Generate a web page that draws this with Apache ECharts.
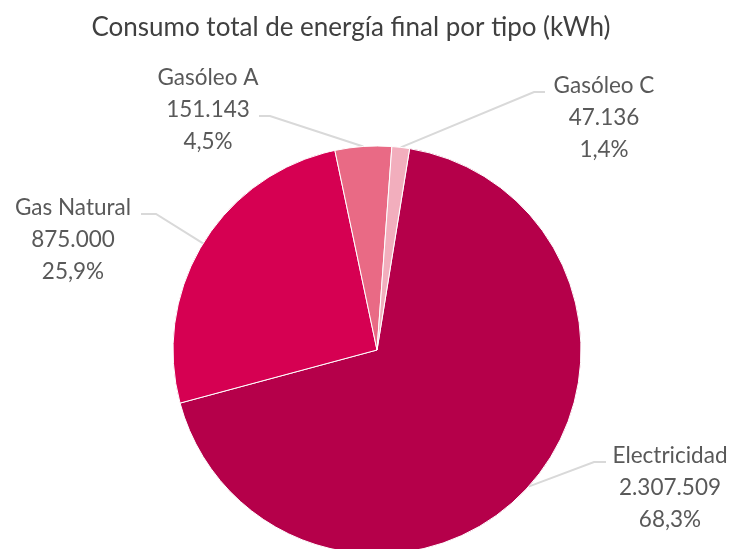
<!DOCTYPE html>
<html>
<head>
<meta charset="utf-8">
<script src="https://cdn.jsdelivr.net/npm/echarts@6/dist/echarts.min.js"></script>
<style>
html, body { margin: 0; padding: 0; background: #fff; }
#main { width: 736px; height: 549px; }
</style>
</head>
<body>
<div id="main"></div>
<script>
// data
var categories = ['Electricidad', 'Gas Natural', 'Gasóleo A', 'Gasóleo C'];
var consumo = [2307509, 875000, 151143, 47136];
var colores = ['#B5004A', '#D60052', '#E96A85', '#F2AEBD'];

// where each label sits (centre) and where its leader line bends / ends
var labelPos = {
	'Electricidad': { x: 670, y: 488, elbow: [594, 462], end: [606, 462] },
	'Gas Natural':  { x: 73,  y: 240, elbow: [156, 214], end: [141, 214] },
	'Gasóleo A':    { x: 208, y: 110, elbow: [270, 116], end: [259, 116] },
	'Gasóleo C':    { x: 604, y: 118, elbow: [534, 92],  end: [545, 92] }
};

var total = consumo.reduce(function(a, b){ return a + b; }, 0);

function fmtMiles(v){
	return String(v).replace(/\B(?=(\d{3})+(?!\d))/g, '.');
}

var pieData = [];
for (var i = 0; i < categories.length; i++) {
	pieData.push({
		name: categories[i],
		value: consumo[i],
		itemStyle: { color: colores[i] }
	});
}

var myChart = echarts.init(document.getElementById('main'));

myChart.setOption({
	animation: false,
	backgroundColor: '#ffffff',
	title: {
		text: 'Consumo total de energía final por tipo (kWh)',
		left: 346,
		top: 10,
		textAlign: 'center',
		textStyle: {
			fontFamily: 'Lato',
			fontWeight: 400,
			fontSize: 26,
			color: '#404040'
		}
	},
	series: [{
		type: 'pie',
		center: [377, 350],
		radius: 204,
		startAngle: 80.8,
		clockwise: true,
		data: pieData,
		itemStyle: { borderColor: '#ffffff', borderWidth: 1 },
		label: {
			show: true,
			position: 'outside',
			formatter: function(p){
				var pct = (p.value / total * 100).toFixed(1).replace('.', ',');
				return p.name + '\n' + fmtMiles(p.value) + '\n' + pct + '%';
			},
			fontFamily: 'Lato',
			fontWeight: 400,
			fontSize: 22.5,
			lineHeight: 32,
			color: '#595959',
			align: 'center'
		},
		labelLine: {
			show: true,
			lineStyle: { color: '#D9D9D9', width: 2 }
		},
		labelLayout: function(params){
			var name = categories[params.dataIndex];
			var lp = labelPos[name];
			var start = params.labelLinePoints ? params.labelLinePoints[0] : lp.elbow;
			return {
				x: lp.x,
				y: lp.y,
				align: 'center',
				verticalAlign: 'middle',
				labelLinePoints: [start, lp.elbow, lp.end]
			};
		}
	}]
});
</script>
</body>
</html>
